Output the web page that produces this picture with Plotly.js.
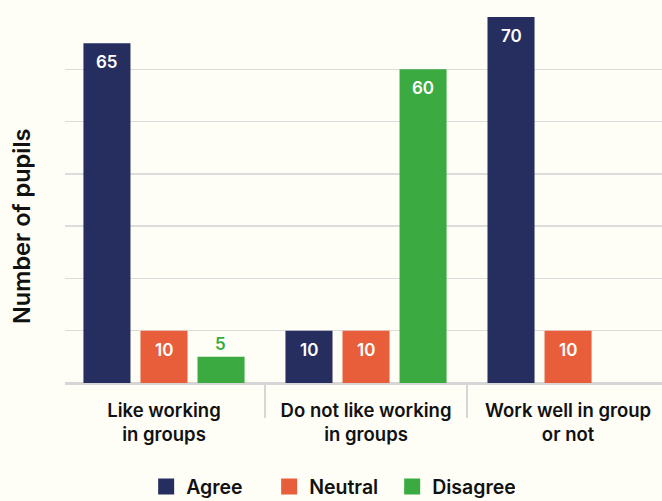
<!DOCTYPE html>
<html>
<head>
<meta charset="utf-8">
<script src="https://cdn.plot.ly/plotly-3.0.1.min.js"></script>
<style>
html,body{margin:0;padding:0;background:#fefef6;}
#chart{width:662px;height:501px;}
</style>
</head>
<body>
<div id="chart"></div>
<script>
const categories = ["Like working<br>in groups", "Do not like working<br>in groups", "Work well in group<br>or not"];
const seriesNames = ["Agree", "Neutral", "Disagree"];
const agree = [65, 10, 70];
const neutral = [10, 10, 10];
const disagree = [5, 60, 0];
const colors = ["#262e5f", "#e95e3a", "#3aaa41"];
const yTitle = "Number of pupils";

const FONT = "Inter, Roboto, 'Open Sans', sans-serif";
const values = [agree, neutral, disagree];

const traces = values.map((vals, i) => ({
  type: "bar",
  name: seriesNames[i],
  x: categories,
  y: vals,
  marker: {color: colors[i]},
  showlegend: false,
  hoverinfo: "skip"
}));

// legend entries with larger square swatches
seriesNames.forEach((n, i) => {
  traces.push({
    type: "scatter",
    mode: "markers",
    name: n,
    x: [null],
    y: [null],
    marker: {symbol: "square", size: 20, color: colors[i]},
    showlegend: true,
    hoverinfo: "skip"
  });
});

// value labels placed through the axes (category + value)
const SLOT = 57; // px offset of each bar within its group
const annotations = [];
values.forEach((vals, i) => {
  vals.forEach((v, j) => {
    if (v <= 0) return;
    const inside = v >= 8;
    annotations.push({
      xref: "x", yref: "y",
      x: categories[j], y: v,
      xshift: (i - 1) * SLOT,
      yshift: inside ? -19 : 13,
      yanchor: "middle", xanchor: "center",
      text: String(v),
      showarrow: false,
      font: {size: 17, family: FONT, weight: 600, color: inside ? "#ffffff" : colors[i]}
    });
  });
});
annotations.push({
  text: yTitle,
  xref: "paper", yref: "paper",
  x: -0.072, y: 0.429,
  xanchor: "center", yanchor: "middle",
  textangle: -90,
  showarrow: false,
  font: {size: 23.5, family: FONT, weight: 600, color: "#111111"}
});

const layout = {
  width: 662,
  height: 501,
  paper_bgcolor: "#fefef6",
  plot_bgcolor: "#fefef6",
  margin: {l: 65, r: 0, t: 17, b: 118},
  barmode: "group",
  bargap: 0.153,
  bargroupgap: 0.175,
  font: {family: FONT, color: "#111111"},
  xaxis: {
    type: "category",
    range: [-0.49, 2.465],
    tickson: "boundaries",
    ticks: "outside",
    ticklen: 33,
    tickwidth: 1.5,
    tickcolor: "#d6d6d6",
    ticklabelstandoff: 10,
    showgrid: false,
    showline: true,
    linecolor: "#d6d6d6",
    linewidth: 1.5,
    automargin: false,
    tickfont: {size: 18.5, family: FONT, weight: 600, color: "#111111"},
    fixedrange: true
  },
  yaxis: {
    range: [0, 70],
    dtick: 10,
    showticklabels: false,
    showgrid: true,
    gridcolor: "#dcdcdc",
    gridwidth: 1.5,
    zeroline: true,
    zerolinecolor: "#d6d6d6",
    zerolinewidth: 1.5,
    ticks: "",
    automargin: false,
    fixedrange: true
  },
  annotations: annotations,
  legend: {
    orientation: "h",
    xref: "paper", yref: "container",
    x: 0.445, xanchor: "center",
    y: 0.067, yanchor: "top",
    entrywidth: 78,
    entrywidthmode: "pixels",
    font: {size: 19.5, family: FONT, weight: 600, color: "#111111"},
    bgcolor: "rgba(0,0,0,0)",
    itemclick: false
  },
  showlegend: true
};

Plotly.newPlot("chart", traces, layout, {displayModeBar: false, staticPlot: true});
</script>
</body>
</html>
